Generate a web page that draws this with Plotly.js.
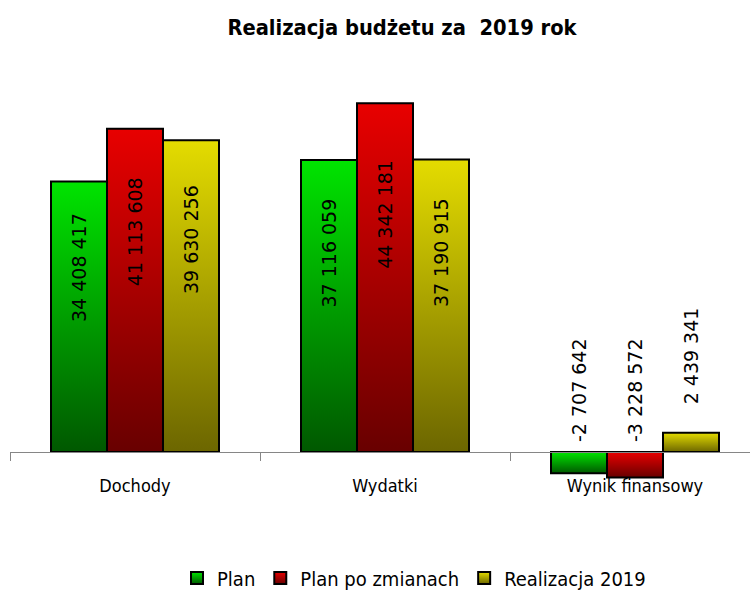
<!DOCTYPE html>
<html><head><meta charset="utf-8">
<script src="https://cdn.plot.ly/plotly-3.0.1.min.js"></script>
<style>html,body{margin:0;padding:0;background:#fff}#chart{width:750px;height:590px}</style>
</head><body><div id="chart"></div>
<script>
const categories = ['Dochody', 'Wydatki', 'Wynik finansowy'];
const seriesNames = ['Plan', 'Plan po zmianach', 'Realizacja 2019'];
const plan = [34408417, 37116059, -2707642];
const planPoZmianach = [41113608, 44342181, -3228572];
const realizacja = [39630256, 37190915, 2439341];

const series = [plan, planPoZmianach, realizacja];
const colors = ['#00a000', '#b00000', '#b4ac00'];
const gradStops = [
  ['#00e400', '#005800'],
  ['#e80000', '#680000'],
  ['#e4dc00', '#6c6600']
];
const yMin = -6.1e6, yMax = 47.3e6;
const bargap = 0.328;
const barW = (1 - bargap) / 3;
const narrow = 'DejaVu Sans Condensed';
const fmt = v => String(v).replace(/\B(?=(\d{3})+(?!\d))/g, ' ');

const traces = series.map((vals, k) => ({
  type: 'bar', name: seriesNames[k], x: categories, y: vals,
  marker: {color: colors[k], line: {color: '#000', width: 2}},
  hoverinfo: 'none'
}));

const maxAbs = Math.max(...series.flat().map(Math.abs));
const annotations = [];
series.forEach((vals, k) => vals.forEach((v, i) => {
  const ann = {
    x: i + (k - 1) * barW, xref: 'x', yref: 'y', text: fmt(v), textangle: -90,
    showarrow: false, font: {family: 'DejaVu Sans', size: 19, color: '#000'}
  };
  if (Math.abs(v) > 0.2 * maxAbs) { ann.y = 0.68 * v; ann.yanchor = 'middle'; }
  else if (v < 0) { ann.y = 0; ann.yanchor = 'bottom'; ann.yshift = 8; }
  else { ann.y = v; ann.yanchor = 'bottom'; ann.yshift = 26; }
  annotations.push(ann);
}));

const layout = {
  width: 750, height: 590,
  margin: {l: 10, r: 0, t: 80, b: 90},
  paper_bgcolor: '#fff', plot_bgcolor: 'rgba(0,0,0,0)',
  barmode: 'group', bargap: bargap, bargroupgap: 0,
  title: {text: 'Realizacja budżetu za  2019 rok',
    font: {family: narrow, size: 21.7, weight: 'bold', color: '#000'},
    x: 402 / 750, xanchor: 'center', xref: 'container', y: 1 - 27 / 590, yanchor: 'middle', yref: 'container'},
  xaxis: {type: 'category', range: [-0.5, 2.46], anchor: 'free', position: (0 - yMin) / (yMax - yMin),
    showline: true, linecolor: '#868686', linewidth: 1, ticks: 'outside', tickson: 'boundaries',
    ticklen: 8, tickcolor: '#868686', tickwidth: 1,
    tickfont: {family: narrow, size: 18, color: '#000'}, ticklabelstandoff: 17,
    showgrid: false, zeroline: false, fixedrange: true},
  yaxis: {range: [yMin, yMax], visible: false, showgrid: false, zeroline: false, fixedrange: true},
  legend: {orientation: 'h', x: (414 - 10) / 740, xanchor: 'center', y: 1 - 578 / 590, yref: 'container', yanchor: 'middle',
    font: {family: narrow, size: 20, color: '#000'}},
  showlegend: true,
  annotations: annotations
};

function applyGradients(gd) {
  const svg = gd.querySelector('svg.main-svg');
  if (!svg) return;
  let defs = svg.querySelector('defs');
  if (!defs) { defs = document.createElementNS('http://www.w3.org/2000/svg', 'defs'); svg.insertBefore(defs, svg.firstChild); }
  gradStops.forEach((st, k) => {
    const id = 'barGrad' + k;
    if (document.getElementById(id)) return;
    const g = document.createElementNS('http://www.w3.org/2000/svg', 'linearGradient');
    g.setAttribute('id', id); g.setAttribute('x1', '0'); g.setAttribute('y1', '0'); g.setAttribute('x2', '0'); g.setAttribute('y2', '1');
    [[0, st[0]], [1, st[1]]].forEach(([o, c]) => {
      const s = document.createElementNS('http://www.w3.org/2000/svg', 'stop');
      s.setAttribute('offset', o); s.setAttribute('stop-color', c); g.appendChild(s);
    });
    defs.appendChild(g);
  });
  gd.querySelectorAll('.barlayer .trace').forEach((tr, k) => {
    tr.querySelectorAll('path').forEach(p => { p.style.fill = 'url(#barGrad' + k + ')'; });
  });
  gd.querySelectorAll('.legend .traces').forEach((tr, k) => {
    tr.querySelectorAll('.legendpoints path').forEach(p => { p.style.fill = 'url(#barGrad' + k + ')'; });
  });
}

const gd = document.getElementById('chart');
Plotly.newPlot(gd, traces, layout, {displayModeBar: false, staticPlot: true}).then(() => {
  applyGradients(gd);
  gd.on('plotly_afterplot', () => applyGradients(gd));
});
</script>
</body></html>
